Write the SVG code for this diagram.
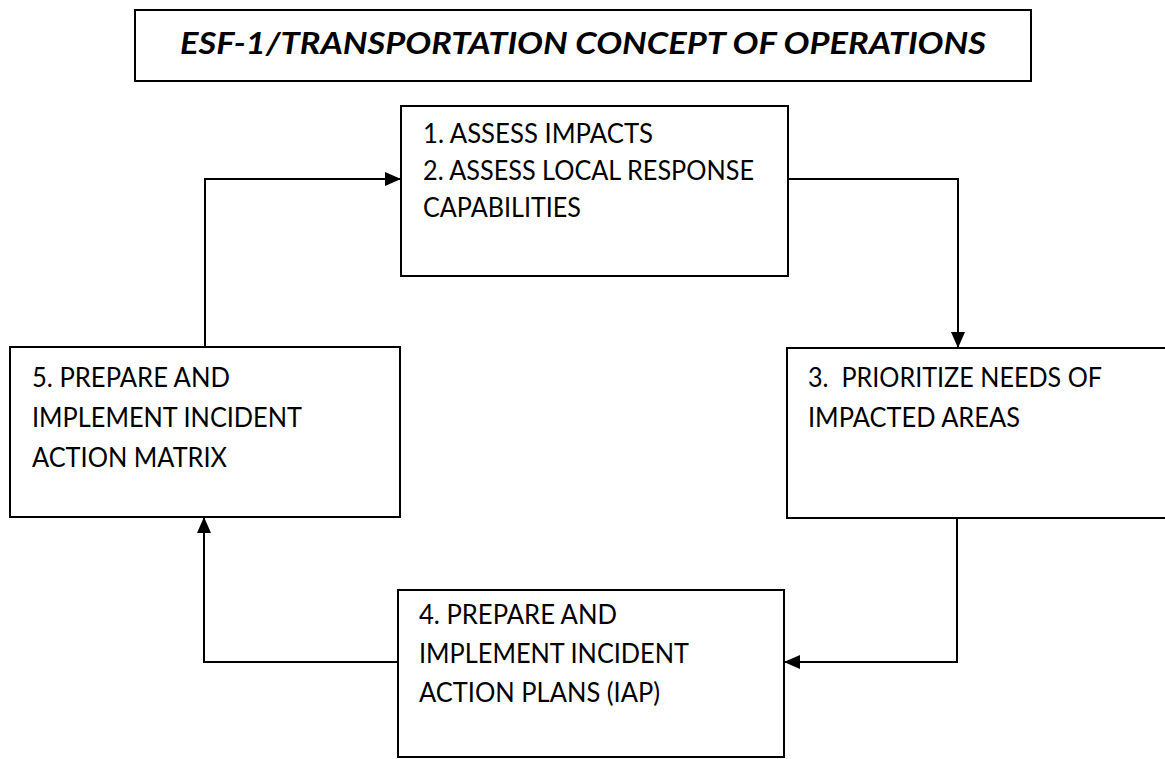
<svg xmlns="http://www.w3.org/2000/svg" width="1165" height="759" viewBox="0 0 1165 759">
<style>
.box{fill:#fff;stroke:#000;stroke-width:2}
.t{font-family:Lato,"Liberation Sans",sans-serif;font-size:26px;fill:#000}
.title{font-family:Lato,"Liberation Sans",sans-serif;font-size:31px;font-weight:bold;font-style:italic;fill:#000}
.c{fill:none;stroke:#000;stroke-width:2}
</style>
<defs>
<marker id="ah" viewBox="0 0 16 14" refX="16" refY="7" markerWidth="16" markerHeight="14" markerUnits="userSpaceOnUse" orient="auto">
<path d="M0,0 L16,7 L0,14 z" fill="#000"/>
</marker>
</defs>
<rect width="1165" height="759" fill="#fff"/>
<g id="title">
<rect class="box" x="135" y="10" width="896" height="71"/>
<text class="title" x="180" y="54" textLength="806" lengthAdjust="spacingAndGlyphs">ESF-1/TRANSPORTATION CONCEPT OF OPERATIONS</text>
</g>
<g id="connectors">
<path class="c" d="M205,347 V179 H401" marker-end="url(#ah)"/>
<path class="c" d="M788,179 H958 V348" marker-end="url(#ah)"/>
<path class="c" d="M957,518 V662 H784" marker-end="url(#ah)"/>
<path class="c" d="M398,662 H204 V517" marker-end="url(#ah)"/>
</g>
<g id="node1">
<rect class="box" x="401" y="106" width="387" height="170"/>
<text class="t" x="423" y="143" textLength="230" lengthAdjust="spacingAndGlyphs">1. ASSESS IMPACTS</text>
<text class="t" x="423" y="180" textLength="331" lengthAdjust="spacingAndGlyphs">2. ASSESS LOCAL RESPONSE</text>
<text class="t" x="423" y="217" textLength="158" lengthAdjust="spacingAndGlyphs">CAPABILITIES</text>
</g>
<g id="node3">
<rect class="box" x="787" y="348" width="400" height="170"/>
<text class="t" x="808" y="387" textLength="294" lengthAdjust="spacingAndGlyphs" xml:space="preserve">3.  PRIORITIZE NEEDS OF</text>
<text class="t" x="808" y="427" textLength="212" lengthAdjust="spacingAndGlyphs">IMPACTED AREAS</text>
</g>
<g id="node4">
<rect class="box" x="398" y="590" width="386" height="167"/>
<text class="t" x="419" y="624" textLength="198" lengthAdjust="spacingAndGlyphs">4. PREPARE AND</text>
<text class="t" x="419" y="663" textLength="270" lengthAdjust="spacingAndGlyphs">IMPLEMENT INCIDENT</text>
<text class="t" x="419" y="702" textLength="241" lengthAdjust="spacingAndGlyphs">ACTION PLANS (IAP)</text>
</g>
<g id="node5">
<rect class="box" x="10" y="347" width="390" height="170"/>
<text class="t" x="32" y="387" textLength="198" lengthAdjust="spacingAndGlyphs">5. PREPARE AND</text>
<text class="t" x="32" y="427" textLength="270" lengthAdjust="spacingAndGlyphs">IMPLEMENT INCIDENT</text>
<text class="t" x="32" y="467" textLength="195" lengthAdjust="spacingAndGlyphs">ACTION MATRIX</text>
</g>
</svg>
